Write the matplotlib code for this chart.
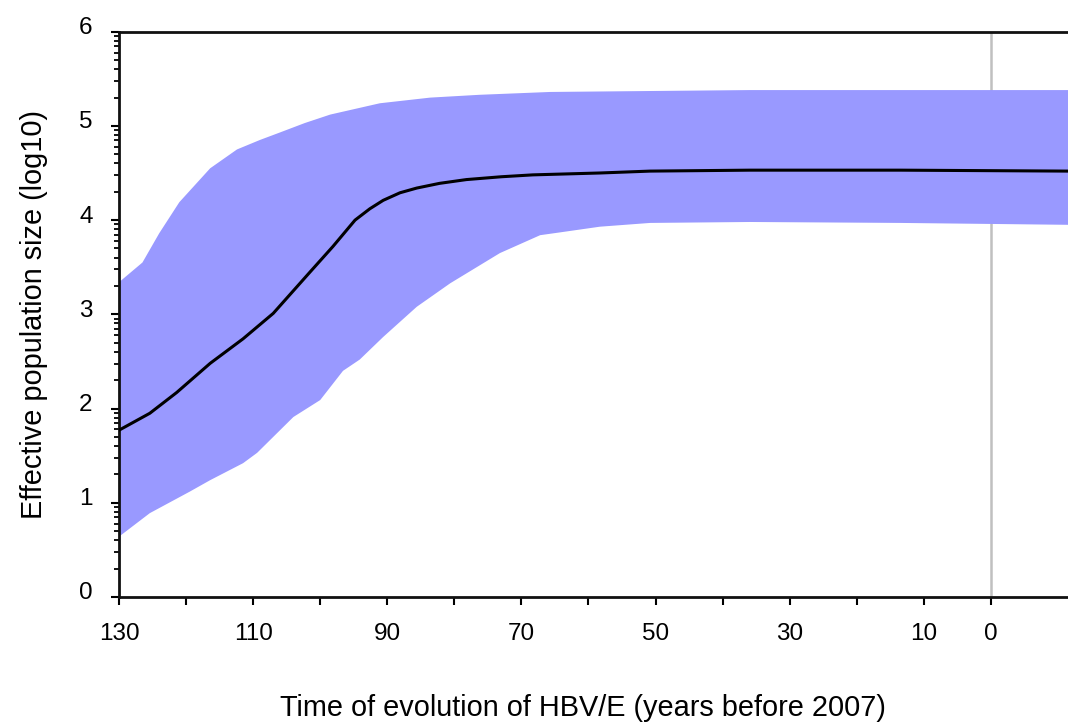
import matplotlib
matplotlib.use("Agg")
import matplotlib.pyplot as plt
import matplotlib.transforms as mtransforms
import numpy as np

plt.rcParams['font.family'] = ['Liberation Sans', 'DejaVu Sans']

# years before 2007
med_years = [130, 125.4, 121.4, 116.4, 111.5, 107.0, 104.5, 101.5, 98.1, 94.8,
             92.6, 90.6, 88.1, 85.6, 82.2, 78.2, 73.0, 68.3, 58.3, 50.8,
             35.9, 13.5, -11.5]
med_vals = [1.77, 1.95, 2.17, 2.48, 2.74, 3.01, 3.21, 3.45, 3.72, 4.00,
            4.12, 4.21, 4.29, 4.34, 4.39, 4.43, 4.46, 4.48, 4.50, 4.52,
            4.53, 4.53, 4.52]

up_years = [130, 126.5, 124.0, 121.0, 116.4, 112.4, 109.0, 106.0, 102.3, 98.5,
            91.1, 83.6, 76.2, 65.7, 35.9, -11.5]
up_vals = [3.34, 3.55, 3.86, 4.19, 4.55, 4.75, 4.85, 4.93, 5.03, 5.12,
           5.24, 5.30, 5.33, 5.36, 5.38, 5.38]

lo_years = [130, 125.4, 119.4, 116.4, 111.5, 109.4, 104.0, 100.0, 96.6, 94.1,
            90.6, 85.6, 80.6, 73.2, 67.2, 64.2, 58.3, 50.8, 35.9, 13.5, -11.5]
lo_vals = [0.64, 0.89, 1.12, 1.24, 1.42, 1.53, 1.91, 2.09, 2.40, 2.52,
           2.76, 3.08, 3.33, 3.65, 3.84, 3.87, 3.93, 3.97, 3.98, 3.97, 3.95]

xtick_pos = list(range(130, -1, -10))
xtick_lab = ['130', '', '110', '', '90', '', '70', '', '50', '', '30', '', '10', '0']

fig = plt.figure(figsize=(10.68, 7.26), dpi=100)
ax = fig.add_axes([0.1114, 0.1777, 0.8886, 0.7787])

# band as one polygon: upper edge then lower edge backwards
band_x = up_years + lo_years[::-1]
band_y = up_vals + lo_vals[::-1]
ax.fill(band_x, band_y, color='#9999ff', linewidth=0, zorder=1)

ax.axvline(0, color='#c0c0c0', linewidth=1.8, zorder=0.5)
ax.plot(med_years, med_vals, color='black', linewidth=2.2, zorder=3,
        solid_joinstyle='round')

ax.set_xlim(130, -11.5)
ax.set_ylim(0, 6)

ax.set_xticks(xtick_pos)
ax.set_xticklabels(xtick_lab)
ax.set_yticks(range(0, 7))
minor = [n + np.log10(k) for n in range(6) for k in range(2, 10)]
ax.set_yticks(minor, minor=True)

ax.tick_params(axis='both', which='major', direction='out', length=6,
               width=1.5, labelsize=17.5, pad=13)
ax.tick_params(axis='y', which='minor', direction='out', length=3.5, width=1.3)

offset = mtransforms.ScaledTranslation(0, 0.06, fig.dpi_scale_trans)
for lab in ax.get_yticklabels():
    lab.set_transform(lab.get_transform() + offset)

for s in ['left', 'bottom', 'top']:
    ax.spines[s].set_linewidth(2)
    ax.spines[s].set_color('#111111')
ax.spines['right'].set_visible(False)

ax.set_xlabel('Time of evolution of HBV/E (years before 2007)', fontsize=20.8,
              labelpad=35)
ax.xaxis.label.set_x(0.489)
ax.set_ylabel('Effective population size (log10)', fontsize=20.8, labelpad=22)

fig.savefig('out.png', dpi=100)
